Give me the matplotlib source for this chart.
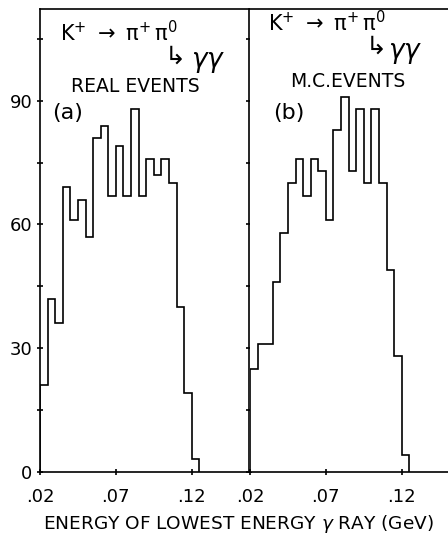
import matplotlib
matplotlib.use('Agg')
import matplotlib.pyplot as plt

# energy bins (GeV) shared by both histograms
BIN_EDGES = [0.020, 0.025, 0.030, 0.035, 0.040, 0.045, 0.050, 0.055, 0.060, 0.065, 0.070,
             0.075, 0.080, 0.085, 0.090, 0.095, 0.100, 0.105, 0.110, 0.115, 0.120, 0.125]

# (a) real events
REAL_COUNTS = [21, 42, 36, 69, 61, 66, 57, 81, 84, 67, 79, 67, 88, 67, 76, 72, 76, 70, 40, 19, 3]
# (b) Monte Carlo events
MC_COUNTS = [25, 31, 31, 46, 58, 70, 76, 67, 76, 73, 61, 83, 91, 73, 88, 70, 88, 70, 49, 28, 4]

Y_TICKS = [0, 30, 60, 90]
Y_MINOR = [15, 45, 75, 105]
X_TICKS = [0.02, 0.07, 0.12]
X_TICK_LABELS = ['.02', '.07', '.12']

DECAY = r'$\mathregular{K^{+}\ \rightarrow\ \pi^{+}\,\pi^{0}}$'
XLABEL = 'ENERGY OF LOWEST ENERGY $\\gamma$ RAY (GeV)'

plt.rcParams['font.family'] = ['DejaVu Sans']
plt.rcParams['mathtext.fontset'] = 'dejavusans'

W, H = 448, 536
fig = plt.figure(figsize=(W / 100, H / 100), dpi=100)

x0_px, y0_px = 40, 471.7
aw, ah = 209.3, 462.7
ax_a = fig.add_axes([x0_px / W, (H - y0_px) / H, aw / W, ah / H])
ax_b = fig.add_axes([250 / W, (H - y0_px) / H, aw / W, ah / H])

LW = 1.2


def setup(ax, counts, first):
    ax.stairs(counts, BIN_EDGES, color='black', linewidth=LW, baseline=0)
    ax.set_xlim(0.02, 0.158)
    ax.set_ylim(0, 112.3)
    ax.set_yticks(Y_TICKS)
    ax.set_yticks(Y_MINOR, minor=True)
    ax.set_xticks(X_TICKS)
    ax.set_xticklabels(X_TICK_LABELS)
    for s in ax.spines.values():
        s.set_linewidth(LW)
    ax.tick_params(axis='y', which='both', direction='inout', length=5, width=LW,
                   left=first, right=first, labelleft=first, labelsize=13, pad=3)
    ax.tick_params(axis='x', direction='inout', length=5, width=LW, labelsize=13, pad=9)


setup(ax_a, REAL_COUNTS, True)
setup(ax_b, MC_COUNTS, False)
ax_b.spines['right'].set_visible(False)
ax_b.spines['left'].set_visible(False)

# panel annotations
ax_a.text(0.096, 0.948, DECAY, transform=ax_a.transAxes, fontsize=15, ha='left', va='center')
ax_a.text(0.595, 0.896, '↳', transform=ax_a.transAxes, fontsize=18, ha='left', va='center')
ax_a.text(0.72, 0.885, '$\\gamma\\gamma$', transform=ax_a.transAxes, fontsize=19, ha='left', va='center')
ax_a.text(0.150, 0.832, 'REAL EVENTS', transform=ax_a.transAxes, fontsize=13.5, ha='left', va='center')
ax_a.text(0.057, 0.775, '(a)', transform=ax_a.transAxes, fontsize=16, ha='left', va='center')

ax_b.text(0.086, 0.970, DECAY, transform=ax_b.transAxes, fontsize=15, ha='left', va='center')
ax_b.text(0.555, 0.918, '↳', transform=ax_b.transAxes, fontsize=18, ha='left', va='center')
ax_b.text(0.66, 0.905, '$\\gamma\\gamma$', transform=ax_b.transAxes, fontsize=19, ha='left', va='center')
ax_b.text(0.191, 0.843, 'M.C.EVENTS', transform=ax_b.transAxes, fontsize=13.5, ha='left', va='center')
ax_b.text(0.11, 0.775, '(b)', transform=ax_b.transAxes, fontsize=16, ha='left', va='center')

fig.text(238 / W, 1 - 529 / H, XLABEL, fontsize=13.3, ha='center', va='baseline')

fig.savefig('out.png', dpi=100)
